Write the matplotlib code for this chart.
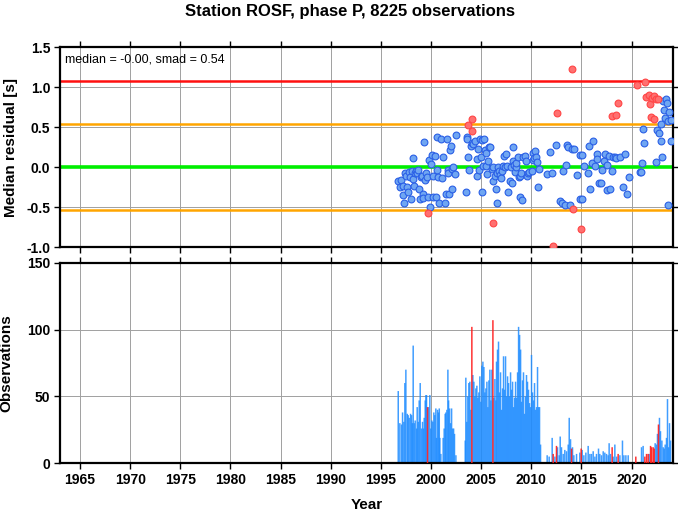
import matplotlib
matplotlib.use('Agg')
import matplotlib.pyplot as plt

plt.rcParams['font.family'] = ['Liberation Sans', 'DejaVu Sans']

title = 'Station ROSF, phase P, 8225 observations'
stats_text = 'median = -0.00, smad = 0.54'
median_res = 0.0
smad = 0.54

# median residual per period, inside the 2*smad band (blue)
ok_years = [1996.73, 1996.96, 1996.89, 1997.16, 1997.23, 1997.26, 1997.39, 1997.49, 1997.62, 1997.72,
            1997.82, 1997.89, 1997.96, 1998.06, 1998.16, 1998.22, 1998.32, 1998.42, 1998.49, 1998.62,
            1998.72, 1998.82, 1998.89, 1998.95, 1999.05, 1999.15, 1999.22, 1999.32, 1999.39, 1999.49,
            1999.55, 1999.72, 1999.82, 1999.88, 1999.95, 2000.05, 2000.15, 2000.22, 2000.38, 2000.48,
            2000.55, 2000.62, 2000.72, 2000.82, 2000.95, 2001.05, 2001.21, 2001.38, 2001.48, 2001.55,
            2001.65, 2001.71, 2001.81, 2001.88, 2001.98, 2002.08, 2002.14, 2002.21, 2002.38, 2002.48,
            2003.47, 2003.54, 2003.61, 2003.71, 2003.81, 2003.94, 2004.04, 2004.20, 2004.37, 2004.54,
            2004.60, 2004.70, 2004.80, 2004.87, 2004.94, 2005.04, 2005.13, 2005.20, 2005.27, 2005.37,
            2005.47, 2005.53, 2005.60, 2005.70, 2005.80, 2005.87, 2006.03, 2006.13, 2006.20, 2006.36,
            2006.46, 2006.53, 2006.60, 2006.70, 2006.80, 2006.86, 2006.96, 2007.03, 2007.13, 2007.26,
            2007.36, 2007.46, 2007.53, 2007.69, 2007.86, 2007.93, 2008.03, 2008.13, 2008.19, 2008.29,
            2008.36, 2008.46, 2008.52, 2008.69, 2008.79, 2008.86, 2008.92, 2009.02, 2009.12, 2009.19,
            2009.36, 2009.45, 2009.52, 2009.69, 2009.79, 2010.02, 2010.12, 2010.19, 2010.25, 2010.35,
            2010.45, 2010.52, 2010.68, 2010.78, 2011.58, 2011.85, 2012.11, 2012.51, 2012.84, 2013.01,
            2013.18, 2013.34, 2013.44, 2013.51, 2013.67, 2013.84, 2014.01, 2014.24, 2014.51, 2014.84,
            2014.90, 2015.01, 2015.01, 2015.24, 2015.67, 2015.77, 2015.84, 2016.01, 2016.17, 2016.34,
            2016.57, 2016.57, 2016.77, 2016.91, 2017.01, 2017.24, 2017.34, 2017.51, 2017.57, 2017.77,
            2017.84, 2018.01, 2018.16, 2018.33, 2018.49, 2018.83, 2019.10, 2019.33, 2019.50, 2019.76,
            2020.82, 2020.93, 2021.00, 2021.10, 2021.23, 2022.39, 2022.49, 2022.72, 2022.89, 2022.92,
            2023.02, 2023.15, 2023.22, 2023.32, 2023.42, 2023.55, 2023.65, 2023.65, 2023.75, 2023.89,
            2023.89]
ok_res = [-0.17, -0.16, -0.25, -0.24, -0.35, -0.45, -0.07, -0.11, -0.25, -0.31,
          -0.06, -0.12, -0.40, -0.05, 0.11, -0.15, -0.24, -0.08, -0.05, -0.07,
          -0.04, -0.27, -0.40, -0.12, -0.11, -0.34, -0.39, 0.31, -0.16, -0.08,
          -0.12, -0.38, 0.09, -0.50, 0.04, 0.15, -0.37, -0.11, 0.14, -0.38,
          -0.04, 0.38, -0.12, -0.45, 0.35, -0.14, 0.12, -0.45, -0.34, 0.35,
          -0.04, -0.07, -0.34, 0.21, 0.26, -0.02, -0.28, 0.00, -0.09, 0.40,
          -0.31, 0.38, 0.35, 0.12, -0.04, 0.26, 0.30, 0.29, 0.32, -0.11,
          0.10, 0.22, -0.04, 0.35, 0.13, 0.34, -0.31, 0.01, 0.35, 0.21,
          0.17, 0.01, -0.09, 0.08, 0.25, 0.25, -0.02, 0.00, -0.18, -0.11,
          -0.28, -0.45, -0.08, 0.00, -0.05, -0.10, -0.14, -0.05, 0.01, 0.14,
          0.00, 0.16, 0.01, -0.31, -0.18, 0.00, -0.20, 0.07, 0.25, 0.03,
          -0.06, 0.00, 0.05, 0.13, -0.13, -0.11, -0.37, -0.07, -0.41, 0.13,
          0.14, 0.08, -0.11, -0.08, -0.06, -0.05, 0.09, 0.18, 0.11, 0.20,
          0.13, 0.06, -0.25, -0.02, -0.09, 0.19, -0.07, 0.28, -0.43, -0.45,
          -0.05, -0.48, 0.03, 0.28, 0.25, -0.48, 0.23, 0.22, -0.10, 0.15,
          -0.40, 0.15, -0.40, 0.01, -0.07, 0.26, -0.27, 0.05, 0.33, 0.01,
          0.16, 0.10, -0.20, -0.20, -0.04, 0.07, 0.16, 0.03, -0.29, 0.14,
          -0.27, -0.05, 0.12, 0.12, 0.11, 0.12, -0.25, 0.16, -0.34, -0.13,
          -0.06, -0.06, 0.05, 0.47, 0.30, 0.06, 0.46, 0.43, 0.54, 0.33,
          0.13, 0.83, 0.71, 0.61, 0.85, 0.80, 0.57, -0.47, 0.69, 0.59,
          0.33]

# flagged periods (red)
bad_years = [1999.65, 2003.71, 2004.04, 2004.10, 2006.13, 2012.18, 2012.58, 2014.01, 2014.11, 2015.00,
             2018.09, 2018.40, 2018.63, 2020.49, 2021.30, 2021.48, 2021.75, 2021.88, 2021.98, 2022.08,
             2022.21, 2022.21, 2022.41, 2022.65]
bad_res = [-0.57, 0.53, 0.60, 0.45, -0.70, -0.99, 0.68, 1.23, -0.53, -0.78,
           0.64, 0.65, 0.80, 1.03, 1.06, 0.88, 0.90, 0.79, 0.62, 0.86,
           0.89, 0.60, 0.85, 0.85]

# number of observations per period
ok_bar_years = [1996.73, 1996.89, 1997.06, 1997.16, 1997.29, 1997.39, 1997.49, 1997.63, 1997.72, 1997.82,
                1997.96, 1998.06, 1998.14, 1998.22, 1998.32, 1998.42, 1998.56, 1998.62, 1998.72, 1998.82,
                1998.92, 1999.05, 1999.15, 1999.25, 1999.32, 1999.42, 1999.49, 1999.55, 1999.75, 1999.88,
                1999.98, 2000.08, 2000.18, 2000.28, 2000.38, 2000.48, 2000.55, 2000.65, 2000.75, 2000.82,
                2000.88, 2000.98, 2001.21, 2001.31, 2001.41, 2001.48, 2001.58, 2001.68, 2001.75, 2001.85,
                2001.95, 2002.05, 2002.15, 2002.25, 2002.34, 2002.48,
                2003.41, 2003.47, 2003.57, 2003.67, 2003.77, 2003.87, 2003.97, 2004.17, 2004.27, 2004.37,
                2004.47, 2004.57, 2004.67, 2004.77, 2004.87, 2004.97, 2005.07, 2005.17, 2005.27, 2005.37,
                2005.47, 2005.57, 2005.67, 2005.77, 2005.87, 2005.97, 2006.07, 2006.27, 2006.37, 2006.47,
                2006.53, 2006.63, 2006.73, 2006.83, 2006.93, 2007.03, 2007.13, 2007.23, 2007.33, 2007.43,
                2007.53, 2007.63, 2007.73, 2007.83, 2007.93, 2008.03, 2008.13, 2008.23, 2008.33, 2008.43,
                2008.53, 2008.63, 2008.73, 2008.83, 2008.93, 2009.02, 2009.12, 2009.22, 2009.32, 2009.42,
                2009.52, 2009.62, 2009.72, 2009.82, 2009.92, 2010.02, 2010.12, 2010.22, 2010.32, 2010.42,
                2010.52, 2010.62, 2010.72, 2010.82, 2010.92,
                2011.58, 2011.78, 2012.08, 2012.35, 2012.61, 2012.78, 2012.88, 2013.01, 2013.18, 2013.34,
                2013.51, 2013.68, 2013.78, 2013.91, 2014.11, 2014.24, 2014.51, 2014.84, 2015.07, 2015.24,
                2015.44, 2015.67, 2015.84, 2016.00, 2016.17, 2016.34, 2016.50, 2016.70, 2016.83, 2017.00,
                2017.17, 2017.33, 2017.50, 2017.66, 2017.76, 2017.90, 2018.16, 2018.33, 2018.50, 2018.83,
                2019.09, 2019.23, 2019.43, 2019.66, 2020.99, 2021.15, 2021.75, 2022.35, 2022.48, 2022.58,
                2022.78, 2022.88, 2023.02, 2023.15, 2023.25, 2023.35, 2023.48, 2023.58, 2023.68, 2023.78,
                2023.88]
ok_bar_counts = [54, 30, 29, 38, 31, 60, 70, 37, 36, 34,
                 37, 36, 30, 88, 30, 32, 26, 42, 31, 47,
                 60, 26, 31, 26, 34, 47, 51, 51, 42, 51,
                 26, 32, 31, 38, 36, 41, 19, 40, 38, 41,
                 19, 7, 19, 26, 37, 38, 40, 70, 47, 41,
                 30, 41, 26, 26, 22, 6,
                 17, 64, 31, 50, 60, 61, 40, 66, 61, 50,
                 56, 58, 49, 53, 65, 46, 73, 76, 72, 53,
                 56, 61, 42, 62, 70, 47, 70, 49, 63, 47,
                 76, 85, 91, 53, 68, 40, 56, 80, 55, 80,
                 50, 65, 60, 50, 68, 55, 61, 42, 49, 61,
                 49, 68, 102, 96, 85, 46, 62, 68, 37, 50,
                 66, 61, 55, 45, 42, 81, 53, 47, 60, 40,
                 42, 72, 42, 42, 14,
                 6, 5, 19, 5, 12, 6, 20, 12, 7, 10,
                 9, 14, 34, 18, 12, 6, 7, 8, 10, 6,
                 8, 13, 7, 7, 9, 5, 7, 11, 7, 6,
                 9, 8, 7, 6, 15, 7, 5, 14, 5, 6,
                 17, 6, 6, 6, 12, 13, 7, 15, 14, 22,
                 34, 24, 17, 12, 11, 14, 19, 48, 12, 30,
                 17]

bad_bar_years = [1999.65, 2004.07, 2006.17, 2012.18, 2012.51, 2014.01, 2014.97, 2018.06, 2018.66, 2020.42,
                 2021.32, 2021.49, 2021.65, 2021.89, 2021.99, 2022.15, 2022.25, 2022.68]
bad_bar_counts = [42, 102, 107, 7, 13, 11, 11, 12, 7, 5,
                  5, 7, 7, 13, 12, 12, 11, 29]

year_ticks = [1965, 1970, 1975, 1980, 1985, 1990, 1995, 2000, 2005, 2010, 2015, 2020]

fig = plt.figure(figsize=(6.78, 5.11), dpi=100)
ax1 = fig.add_axes([0.0885, 0.5166, 0.9037, 0.3914])
ax2 = fig.add_axes([0.0885, 0.0934, 0.9037, 0.3926])

for ax in (ax1, ax2):
    ax.set_xlim(1963.0, 2024.1)
    ax.set_xticks(year_ticks)
    ax.grid(True, color='#a0a0a0', linewidth=0.7)
    ax.set_axisbelow(True)
    ax.tick_params(direction='out', length=4, width=1, top=True, right=True,
                   labelsize=10, pad=3)
    for s in ax.spines.values():
        s.set_linewidth(1.6)
    for lab in ax.get_xticklabels() + ax.get_yticklabels():
        lab.set_fontweight('bold')

# residual panel
ax1.set_ylim(-1.0, 1.5)
ax1.set_yticks([-1.0, -0.5, 0.0, 0.5, 1.0, 1.5])
ax1.set_yticklabels(['%.1f' % v for v in [-1.0, -0.5, 0.0, 0.5, 1.0, 1.5]], fontweight='bold')
ax1.tick_params(labelbottom=False)
ax1.axhline(median_res, color='#00ee00', linewidth=2.6, zorder=2)
ax1.axhline(median_res + smad, color='#ffa500', linewidth=1.8, zorder=2)
ax1.axhline(median_res - smad, color='#ffa500', linewidth=1.8, zorder=2)
ax1.axhline(median_res + 2 * smad, color='#ff1010', linewidth=1.8, zorder=2)
ax1.axhline(median_res - 2 * smad, color='#ff1010', linewidth=1.8, zorder=2)
ax1.scatter(ok_years, ok_res, s=24, facecolor='#6fa6f2', edgecolor='#2a5fe6', linewidth=0.8, zorder=3)
ax1.scatter(bad_years, bad_res, s=24, facecolor='#ff7070', edgecolor='#ff4545', linewidth=0.8, zorder=3)
ax1.text(0.008, 0.97, stats_text, transform=ax1.transAxes, fontsize=9, va='top', ha='left')
ax1.set_ylabel('Median residual [s]', fontsize=11, fontweight='bold', labelpad=6)
fig.text(0.516, 0.977, title, fontsize=12, fontweight='bold', ha='center', va='center')

# observation count panel
ax2.set_ylim(0, 150)
ax2.set_yticks([0, 50, 100, 150])
ax2.bar(ok_bar_years, ok_bar_counts, width=0.15, color='#1e8cff', alpha=0.85,
        linewidth=0, snap=False, zorder=2)
ax2.bar(bad_bar_years, bad_bar_counts, width=0.15, color='#ff1a1a', alpha=0.9,
        linewidth=0, snap=False, zorder=3)
ax2.set_ylabel('Observations', fontsize=11, fontweight='bold', labelpad=10)
ax2.set_xlabel('Year', fontsize=11, fontweight='bold', labelpad=8)

fig.savefig('out.png', dpi=100)
